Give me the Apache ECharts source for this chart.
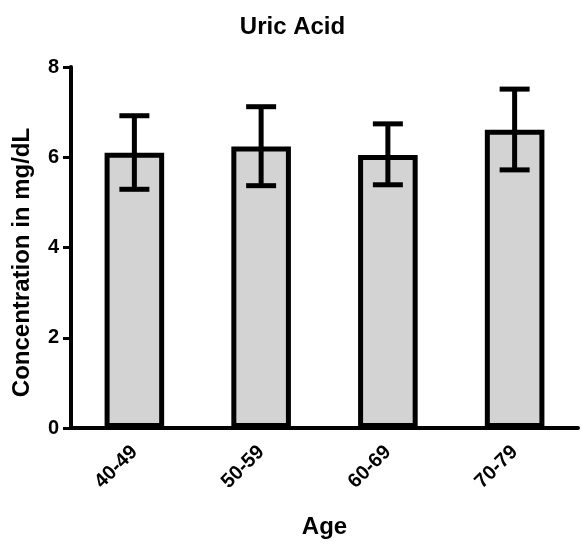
<!DOCTYPE html>
<html>
<head>
<meta charset="utf-8">
<script src="https://cdn.jsdelivr.net/npm/echarts@6/dist/echarts.min.js"></script>
<style>
  html, body { margin: 0; padding: 0; background: #fff; }
  #chart { width: 585px; height: 545px; }
</style>
</head>
<body>
<div id="chart"></div>
<script>
  // age groups and uric acid values (mean with error range)
  const categories = ['40-49', '50-59', '60-69', '70-79'];
  const means = [6.1, 6.24, 6.05, 6.61];
  const lower = [5.29, 5.37, 5.39, 5.72];
  const upper = [6.92, 7.12, 6.74, 7.51];
  const yTicks = [0, 2, 4, 6, 8];

  const font = '"Liberation Sans", Arial, sans-serif';
  const chart = echarts.init(document.getElementById('chart'));

  const errorData = categories.map((c, i) => [i, lower[i], upper[i]]);

  chart.setOption({
    animation: false,
    title: {
      text: 'Uric Acid',
      left: 'center',
      top: 10,
      textStyle: { fontFamily: font, fontWeight: 'bold', fontSize: 24, color: '#000' }
    },
    grid: { left: 71, right: 7, top: 67, bottom: 117, outerBoundsMode: 'none', containLabel: false },
    xAxis: {
      type: 'category',
      data: categories,
      name: 'Age',
      nameLocation: 'middle',
      nameGap: 87,
      nameTextStyle: { fontFamily: font, fontWeight: 'bold', fontSize: 24, color: '#000' },
      axisLine: { lineStyle: { color: '#000', width: 4 } },
      axisTick: { alignWithLabel: true, length: 7, lineStyle: { color: '#000', width: 3 } },
      axisLabel: { rotate: 45, margin: 21, fontFamily: font, fontWeight: 'bold', fontSize: 20, color: '#000' }
    },
    yAxis: {
      type: 'value',
      min: yTicks[0],
      max: yTicks[yTicks.length - 1],
      interval: 2,
      name: 'Concentration in mg/dL',
      nameLocation: 'middle',
      nameGap: 37,
      nameTextStyle: { fontFamily: font, fontWeight: 'bold', fontSize: 24, color: '#000', padding: [0, 0, 0, -30] },
      axisLine: { show: true, lineStyle: { color: '#000', width: 4 } },
      axisTick: { show: true, length: 8, lineStyle: { color: '#000', width: 3 } },
      axisLabel: { margin: 12, fontFamily: font, fontWeight: 'bold', fontSize: 20, color: '#000' },
      splitLine: { show: false }
    },
    series: [
      {
        type: 'bar',
        data: means,
        barWidth: '47%',
        itemStyle: { color: '#d3d3d3', borderColor: '#000', borderWidth: 5 }
      },
      {
        type: 'custom',
        data: errorData,
        z: 10,
        renderItem: function (params, api) {
          const idx = api.value(0);
          const hi = api.coord([idx, api.value(2)]);
          const lo = api.coord([idx, api.value(1)]);
          const half = 15;
          const style = { stroke: '#000', lineWidth: 5 };
          return {
            type: 'group',
            children: [
              { type: 'line', shape: { x1: hi[0], y1: hi[1], x2: lo[0], y2: lo[1] }, style: style },
              { type: 'line', shape: { x1: hi[0] - half, y1: hi[1], x2: hi[0] + half, y2: hi[1] }, style: style },
              { type: 'line', shape: { x1: lo[0] - half, y1: lo[1], x2: lo[0] + half, y2: lo[1] }, style: style }
            ]
          };
        }
      }
    ]
  });
</script>
</body>
</html>
